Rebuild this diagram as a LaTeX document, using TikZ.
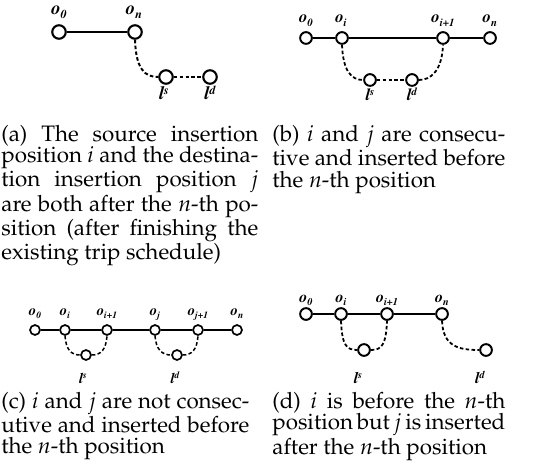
\documentclass[tikz,border=0pt]{standalone}
\usepackage[T1]{fontenc}
\usepackage{mathpazo}
\usepackage{graphicx}
\newcommand{\olab}[1]{\usefont{T1}{ptm}{b}{it}o\raisebox{-0.45ex}{\scalebox{0.65}{#1}}}
\newcommand{\llab}[1]{\usefont{T1}{ptm}{b}{it}l\raisebox{0.65ex}{\scalebox{0.65}{#1}}}
\newcommand{\capsetup}{\spaceskip=.25em plus .8em minus .16em\relax}
\newcommand{\jline}[1]{\hbox to\hsize{#1}}
\newcommand{\eline}[1]{\hbox{#1}}
\newcommand{\capbox}[2]{\vtop{\hsize=#1\capsetup #2}}
\tikzset{
  vtx/.style={circle, draw, fill=white, inner sep=0pt, minimum size=#1},
  dsh/.style={dash pattern=on 2pt off 1.3pt},
  lbl/.style={anchor=base, inner sep=0pt, font=\fontsize{#1}{#1}\selectfont},
  captext/.style={anchor=base west, inner sep=0pt, font=\fontsize{12.6}{12}\selectfont}
}
\begin{document}
\begin{tikzpicture}[x=0.5634pt, y=-0.5634pt]
\useasboundingbox (0,0) rectangle (535,473);

% ---------- (a)
\begin{scope}[line width=1.2pt]
\node[vtx=7.6pt] (a0) at (59,32) {};
\node[vtx=7.6pt] (an) at (135,32) {};
\node[vtx=7.6pt] (als) at (166,77) {};
\node[vtx=7.6pt] (ald) at (210,77) {};
\draw (a0) -- (an);
\draw[dsh, line width=1.1pt] (an.south) .. controls +(1,30) and +(-13,0) .. (als.west);
\draw[dsh, line width=1.1pt] (als) -- (ald);
\node[lbl=10.5] (ta0) at (59,14.5) {\olab{0}};
\node[lbl=10.5] (tan) at (134,14.5) {\olab{n}};
\node[lbl=10.5] (tals) at (164,100) {\llab{s}};
\node[lbl=10.5] (tald) at (210,100) {\llab{d}};
\end{scope}

% ---------- (b)
\begin{scope}[line width=1.1pt]
\node[vtx=6.6pt] (b0) at (306,38) {};
\node[vtx=6.6pt] (bi) at (342,38) {};
\node[vtx=6.6pt] (bi1) at (443,38) {};
\node[vtx=6.6pt] (bn) at (490,38) {};
\node[vtx=6.6pt] (bls) at (370,80) {};
\node[vtx=6.6pt] (bld) at (412,80) {};
\draw (b0) -- (bi) -- (bi1) -- (bn);
\draw[dsh, line width=1pt] (bi.south) .. controls +(1,26) and +(-12,0) .. (bls.west);
\draw[dsh, line width=1pt] (bls) -- (bld);
\draw[dsh, line width=1pt] (bld.east) .. controls +(12,0) and +(-1,26) .. (bi1.south);
\node[lbl=9.5] (tb0) at (306,23) {\olab{0}};
\node[lbl=9.5] (tbi) at (341,23) {\olab{i}};
\node[lbl=9.5] (tbi1) at (443,23) {\olab{i+1}};
\node[lbl=9.5] (tbn) at (490,23) {\olab{n}};
\node[lbl=9.5] (tbls) at (370,101) {\llab{s}};
\node[lbl=9.5] (tbld) at (412,101) {\llab{d}};
\end{scope}

% ---------- (c)
\begin{scope}[line width=0.95pt]
\node[vtx=5.6pt] (c0) at (35,330) {};
\node[vtx=5.6pt] (ci) at (65,330) {};
\node[vtx=5.6pt] (ci1) at (107,330) {};
\node[vtx=5.6pt] (cj) at (155,330) {};
\node[vtx=5.6pt] (cj1) at (198,330) {};
\node[vtx=5.6pt] (cn) at (237,330) {};
\node[vtx=5.6pt] (cls) at (86,355) {};
\node[vtx=5.6pt] (cld) at (177,355) {};
\draw (c0) -- (ci) -- (ci1) -- (cj) -- (cj1) -- (cn);
\draw[dsh, line width=0.85pt] (ci.south) .. controls +(1,14) and +(-9,0) .. (cls.west);
\draw[dsh, line width=0.85pt] (cls.east) .. controls +(9,0) and +(-1,14) .. (ci1.south);
\draw[dsh, line width=0.85pt] (cj.south) .. controls +(1,14) and +(-9,0) .. (cld.west);
\draw[dsh, line width=0.85pt] (cld.east) .. controls +(9,0) and +(-1,14) .. (cj1.south);
\node[lbl=8.3] (tc0) at (35,315) {\olab{0}};
\node[lbl=8.3] (tci) at (65,315) {\olab{i}};
\node[lbl=8.3] (tci1) at (107,315) {\olab{i+1}};
\node[lbl=8.3] (tcj) at (155,315) {\olab{j}};
\node[lbl=8.3] (tcj1) at (198,315) {\olab{j+1}};
\node[lbl=8.3] (tcn) at (237,315) {\olab{n}};
\node[lbl=8.3] (tcls) at (83,383) {\llab{s}};
\node[lbl=8.3] (tcld) at (175,383) {\llab{d}};
\end{scope}

% ---------- (d)
\begin{scope}[line width=1.1pt]
\node[vtx=6.6pt] (d0) at (306,314) {};
\node[vtx=6.6pt] (di) at (341,314) {};
\node[vtx=6.6pt] (di1) at (387,314) {};
\node[vtx=6.6pt] (dn) at (442,314) {};
\node[vtx=6.6pt] (dls) at (364,350) {};
\node[vtx=6.6pt] (dld) at (486,350) {};
\draw (d0) -- (di) -- (di1) -- (dn);
\draw[dsh, line width=1pt] (di.south) .. controls +(1,24) and +(-11,0) .. (dls.west);
\draw[dsh, line width=1pt] (dls.east) .. controls +(11,0) and +(-1,24) .. (di1.south);
\draw[dsh, line width=1pt] (dn.south) .. controls +(1,26) and +(-20,0) .. (dld.west);
\node[lbl=9] (td0) at (306,302) {\olab{0}};
\node[lbl=9] (tdi) at (341,302) {\olab{i}};
\node[lbl=9] (tdi1) at (387,302) {\olab{i+1}};
\node[lbl=9] (tdn) at (442,302) {\olab{n}};
\node[lbl=9] (tdls) at (358,383) {\llab{s}};
\node[lbl=9] (tdld) at (480,383) {\llab{d}};
\end{scope}

% ---------- captions
\node[captext] (capa) at (1,141.7) {\capbox{144.8pt}{%
\jline{(a) The source insertion}
\jline{position $i$ and the destina-}
\jline{tion insertion position $j$}
\jline{are both after the $n$-th po-}
\jline{sition (after finishing the}
\eline{existing trip schedule)}}};
\node[captext] (capb) at (272,141.7) {\capbox{131.3pt}{%
\jline{(b) $i$ and $j$ are consecu-}
\jline{tive and inserted before}
\eline{the $n$-th position}}};
\node[captext] (capc) at (1,408.5) {\capbox{139.7pt}{%
\jline{(c) $i$ and $j$ are not consec-}
\jline{utive and inserted before}
\eline{the $n$-th position}}};
\node[captext] (capd) at (272,408.5) {\capbox{131.3pt}{%
\jline{(d) $i$ is before the $n$-th}
\jline{position but $j$ is inserted}
\eline{after the $n$-th position}}};
\end{tikzpicture}
\end{document}
